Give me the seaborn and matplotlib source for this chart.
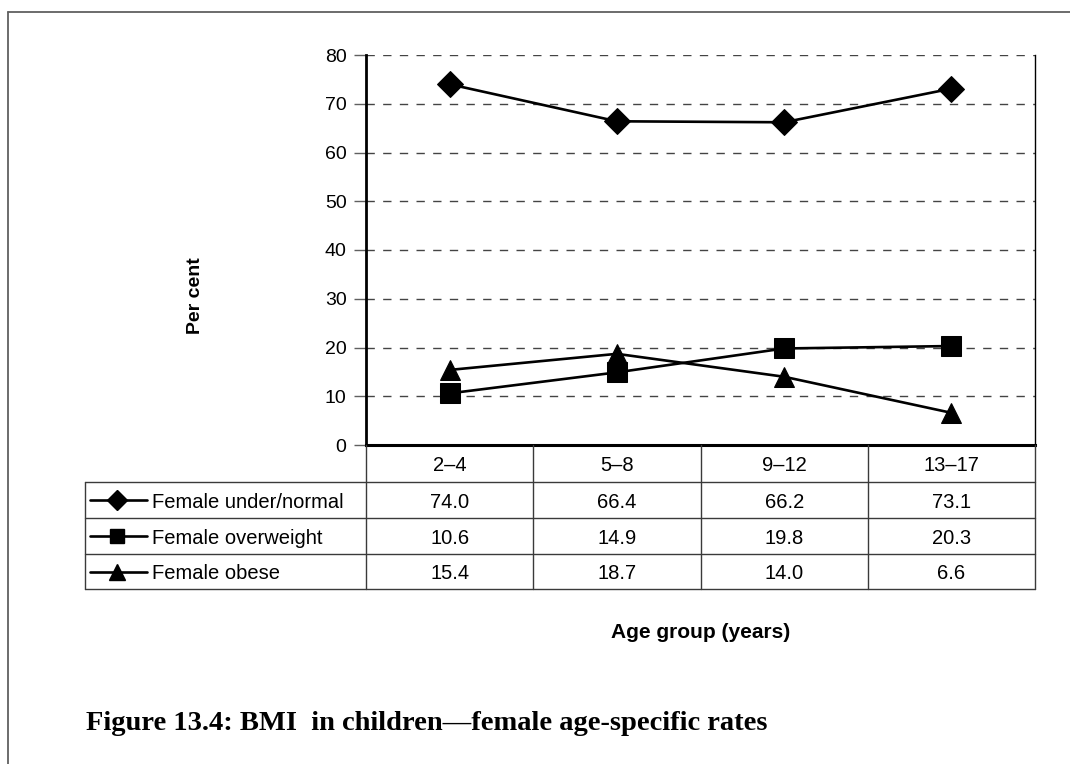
import numpy as np
import pandas as pd
import matplotlib
matplotlib.use("Agg")
import matplotlib.pyplot as plt
from matplotlib.lines import Line2D
import seaborn as sns

# Data
age_groups = ["2\u20134", "5\u20138", "9\u201312", "13\u201317"]
series_names = ["Female under/normal", "Female overweight", "Female obese"]
under_normal = [74.0, 66.4, 66.2, 73.1]
overweight = [10.6, 14.9, 19.8, 20.3]
obese = [15.4, 18.7, 14.0, 6.6]
y_ticks = [0, 10, 20, 30, 40, 50, 60, 70, 80]

values = [under_normal, overweight, obese]
markers = ["D", "s", "^"]
marker_sizes = [13, 14, 15]

sns.set_theme(style="white")
plt.rcParams["font.family"] = ["Liberation Sans", "DejaVu Sans"]
plt.rcParams["text.color"] = "black"
plt.rcParams["axes.labelcolor"] = "black"

W, H = 1070, 764
fig = plt.figure(figsize=(W / 100, H / 100), dpi=100)

def fx(px):
    return px / W

def fy(py):
    return 1 - py / H

ax_l, ax_r, ax_t, ax_b = 366, 1035, 55, 445
ax = fig.add_axes([fx(ax_l), fy(ax_b), fx(ax_r - ax_l), (ax_b - ax_t) / H])

xpos = np.arange(len(age_groups))
for name, vals, mk, ms in zip(series_names, values, markers, marker_sizes):
    df = pd.DataFrame({"x": xpos, "y": vals})
    sns.lineplot(data=df, x="x", y="y", ax=ax, color="black", linewidth=1.9,
                 marker=mk, markersize=ms, markeredgecolor="black",
                 markerfacecolor="black", legend=False)

ax.set_xlim(-0.5, len(age_groups) - 0.5)
ax.set_ylim(0, 80)
ax.set_yticks(y_ticks)
ax.set_xticks([])
ax.set_xlabel("")
ax.set_ylabel("")
ax.tick_params(axis="y", left=True, length=9, width=1, color="#606060",
               labelsize=14, pad=5, labelcolor="black")
for t in y_ticks[1:]:
    ax.axhline(t, color="#444444", linewidth=1, dashes=(6, 6), zorder=0.5)

ax.spines["top"].set_visible(False)
ax.spines["left"].set_linewidth(2)
ax.spines["left"].set_color("black")
ax.spines["bottom"].set_linewidth(2.2)
ax.spines["bottom"].set_color("black")
ax.spines["right"].set_linewidth(1)
ax.spines["right"].set_color("black")

# Data table below the plot
tbl_left = 85
row_edges = [445, 482, 518, 554, 589]
col_edges = [ax_l + (ax_r - ax_l) * i / len(age_groups) for i in range(len(age_groups) + 1)]
line_kw = dict(color="#3a3a3a", linewidth=1)

def hline(x0, x1, y):
    fig.add_artist(Line2D([fx(x0), fx(x1)], [fy(y), fy(y)], **line_kw))

def vline(x, y0, y1):
    fig.add_artist(Line2D([fx(x), fx(x)], [fy(y0), fy(y1)], **line_kw))

for y in row_edges[1:]:
    hline(tbl_left, ax_r, y)
vline(tbl_left, row_edges[1], row_edges[-1])
for x in col_edges:
    vline(x, row_edges[0], row_edges[-1])

cell_fs = 14.5
for i, label in enumerate(age_groups):
    cx = (col_edges[i] + col_edges[i + 1]) / 2
    cy = (row_edges[0] + row_edges[1]) / 2
    fig.text(fx(cx), fy(cy), label, ha="center", va="center_baseline", fontsize=cell_fs)

for r, (name, vals, mk, ms) in enumerate(zip(series_names, values, markers, marker_sizes)):
    cy = (row_edges[r + 1] + row_edges[r + 2]) / 2
    fig.add_artist(Line2D([fx(90), fx(147)], [fy(cy), fy(cy)], color="black", linewidth=1.9))
    fig.add_artist(Line2D([fx(117)], [fy(cy)], color="black", marker=mk,
                          markersize=ms * 0.75, markerfacecolor="black",
                          markeredgecolor="black", linestyle="none"))
    fig.text(fx(152), fy(cy), name, ha="left", va="center_baseline", fontsize=14.5)
    for i, v in enumerate(vals):
        cx = (col_edges[i] + col_edges[i + 1]) / 2
        fig.text(fx(cx), fy(cy), f"{v:.1f}", ha="center", va="center_baseline",
                 fontsize=cell_fs)

# Axis titles and caption
fig.text(fx(195), fy(296), "Per cent", rotation=90, ha="center", va="center",
         fontsize=14, fontweight="bold")
fig.text(fx(701), fy(632), "Age group (years)", ha="center", va="center",
         fontsize=15, fontweight="bold")
fig.text(fx(86), fy(730), "Figure 13.4: BMI  in children\u2014female age-specific rates",
         ha="left", va="baseline", fontsize=20.5, fontweight="bold",
         family=["Liberation Serif", "DejaVu Serif"])

# Frame around the figure
frame_kw = dict(color="#606060", linewidth=1.3)
fig.add_artist(Line2D([fx(8), fx(8)], [fy(12), fy(H + 5)], **frame_kw))
fig.add_artist(Line2D([fx(8), fx(W + 5)], [fy(12), fy(12)], **frame_kw))

fig.savefig("out.png", dpi=100)
